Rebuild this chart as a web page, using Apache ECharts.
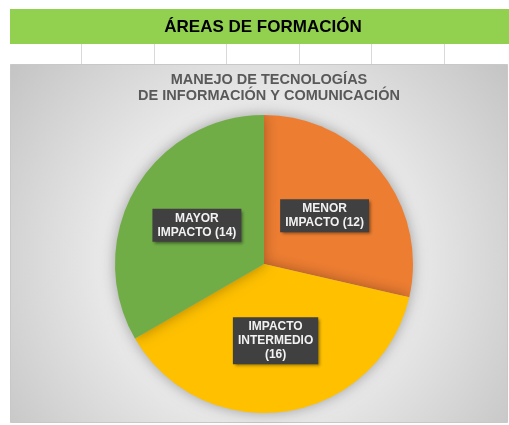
<!DOCTYPE html>
<html>
<head>
<meta charset="utf-8">
<script src="https://cdn.jsdelivr.net/npm/echarts@6/dist/echarts.min.js"></script>
<style>
  html, body { margin: 0; padding: 0; background: #fff; }
  #chart { width: 509px; height: 425px; }
</style>
</head>
<body>
<div id="chart"></div>
<script>
// datos del gráfico
var categories = ['MENOR IMPACTO', 'IMPACTO INTERMEDIO', 'MAYOR IMPACTO']
var values = [12, 16, 14]
var labelTexts = ['MENOR\nIMPACTO (12)', 'IMPACTO\nINTERMEDIO\n(16)', 'MAYOR\nIMPACTO (14)']
var colors = ['#ed7d31', '#ffc000', '#70ad47']
var headerText = 'ÁREAS DE FORMACIÓN'
var chartTitle = 'MANEJO DE TECNOLOGÍAS\nDE INFORMACIÓN Y COMUNICACIÓN'
var gridLinesX = [81, 154, 226, 299, 371, 444] // columnas de la hoja

var font = '"Liberation Sans", Arial, sans-serif'
var chart = echarts.init(document.getElementById('chart'))

var graphics = [
  // barra verde
  { type: 'rect', z: 0, shape: { x: 10, y: 9, width: 499, height: 35 }, style: { fill: '#92d050' } },
  {
    type: 'text', z: 1, x: 263, y: 27,
    style: { text: headerText, font: 'bold 17px ' + font, fill: '#000', align: 'center', verticalAlign: 'middle' }
  },
  // fondo del gráfico
  {
    type: 'rect', z: 0,
    shape: { x: 10.5, y: 64.5, width: 497, height: 358 },
    style: {
      fill: {
        type: 'radial', x: 0.5, y: 0.55, r: 0.88,
        colorStops: [
          { offset: 0, color: '#f6f6f6' },
          { offset: 0.5, color: '#e8e8e8' },
          { offset: 1, color: '#c4c4c4' }
        ]
      },
      stroke: '#c8c8c8', lineWidth: 1
    }
  }
]
gridLinesX.forEach(function (x) {
  graphics.push({
    type: 'line', z: 0,
    shape: { x1: x + 0.5, y1: 44, x2: x + 0.5, y2: 64 },
    style: { stroke: '#d9d9d9', lineWidth: 1 }
  })
})

chart.setOption({
  animation: false,
  graphic: graphics,
  title: {
    text: chartTitle,
    left: 264,
    top: 67,
    textAlign: 'center',
    textStyle: {
      fontFamily: font,
      fontSize: 14.5,
      fontWeight: 'bold',
      color: '#595959',
      lineHeight: 16
    }
  },
  series: [{
    type: 'pie',
    center: [264, 264],
    radius: 149,
    startAngle: 90,
    clockwise: true,
    itemStyle: {
      borderWidth: 0,
      shadowBlur: 14,
      shadowColor: 'rgba(0,0,0,0.32)'
    },
    label: {
      show: true,
      position: 'inside',
      formatter: function (p) {
        return labelTexts[p.dataIndex]
      },
      fontFamily: font,
      fontSize: 12,
      fontWeight: 'bold',
      color: '#f2f2f2',
      lineHeight: 14,
      align: 'center',
      backgroundColor: '#404040',
      padding: [3, 5, 2, 5],
      shadowBlur: 3,
      shadowOffsetX: 2,
      shadowOffsetY: 2,
      shadowColor: 'rgba(0,0,0,0.45)'
    },
    labelLine: { show: false },
    emphasis: { disabled: true },
    data: categories.map(function (name, i) {
      return { name: name, value: values[i], itemStyle: { color: colors[i] } }
    })
  }]
})
</script>
</body>
</html>
